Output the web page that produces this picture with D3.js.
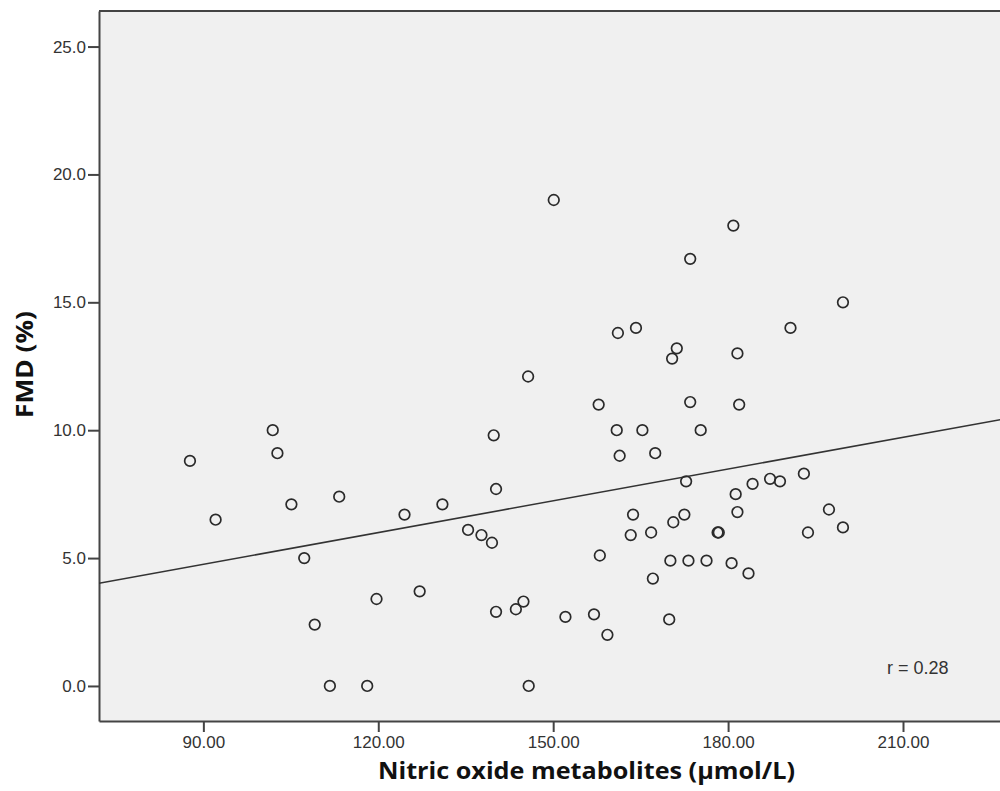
<!DOCTYPE html>
<html>
<head>
<meta charset="utf-8">
<script src="https://cdn.jsdelivr.net/npm/d3@7"></script>
<style>
  body { margin: 0; background: #fff; }
  svg { display: block; }
  .tick text { font-family: "Liberation Sans", Arial, sans-serif; font-size: 17px; fill: #333; }
</style>
</head>
<body>
<svg width="1000" height="791"></svg>
<script>
// scatter: nitric oxide metabolites vs FMD, with fit line

// values
var nox = [87.7, 92.1, 101.9, 102.7, 105.1, 107.3, 109.1, 111.7, 113.3, 118.1,
           119.7, 124.5, 127.1, 131.0, 135.4, 137.7, 139.5, 139.8, 140.2, 140.2,
           143.6, 144.9, 145.7, 145.8, 150.1, 152.1, 157.0, 157.8, 158.0, 159.3,
           160.9, 161.1, 161.4, 163.3, 163.7, 164.2, 165.3, 166.8, 167.1, 167.5,
           169.9, 170.1, 170.4, 170.6, 171.2, 172.5, 172.8, 173.2, 173.5, 173.5,
           175.3, 176.3, 178.2, 178.4, 180.6, 180.9, 181.3, 181.6, 181.6, 181.9,
           183.5, 184.2, 187.2, 188.9, 190.7, 193.0, 193.7, 197.3, 199.7, 199.7];
var fmd = [8.8, 6.5, 10.0, 9.1, 7.1, 5.0, 2.4, 0.0, 7.4, 0.0,
           3.4, 6.7, 3.7, 7.1, 6.1, 5.9, 5.6, 9.8, 7.7, 2.9,
           3.0, 3.3, 12.1, 0.0, 19.0, 2.7, 2.8, 11.0, 5.1, 2.0,
           10.0, 13.8, 9.0, 5.9, 6.7, 14.0, 10.0, 6.0, 4.2, 9.1,
           2.6, 4.9, 12.8, 6.4, 13.2, 6.7, 8.0, 4.9, 16.7, 11.1,
           10.0, 4.9, 6.0, 6.0, 4.8, 18.0, 7.5, 13.0, 6.8, 11.0,
           4.4, 7.9, 8.1, 8.0, 14.0, 8.3, 6.0, 6.9, 15.0, 6.2];

var xTicks = [90, 120, 150, 180, 210];
var yTicks = [0, 5, 10, 15, 20, 25];
var xDomain = [72.1, 239.5];
var yDomain = [-1.37, 26.39];

// fit line (FMD = a + b * NOx)
var fitA = 1.03, fitB = 0.0414;
var rLabel = "r = 0.28";

var xTitle = "Nitric oxide metabolites (\u00b5mol/L)";
var yTitle = "FMD (%)";

// layout (plot runs off the right edge like the original crop)
var pLeft = 99, pRight = 1075, pTop = 11, pBottom = 721;

var svg = d3.select("svg");

var x = d3.scaleLinear().domain(xDomain).range([pLeft, pRight]);
var y = d3.scaleLinear().domain(yDomain).range([pBottom, pTop]);

// plot background
svg.append("rect")
    .attr("x", pLeft).attr("y", pTop)
    .attr("width", pRight - pLeft).attr("height", pBottom - pTop)
    .attr("fill", "#f0f0f0");

// top frame line
svg.append("line")
    .attr("x1", pLeft).attr("x2", pRight)
    .attr("y1", pTop).attr("y2", pTop)
    .attr("stroke", "#444").attr("stroke-width", 2);

var xAxis = svg.append("g")
    .attr("transform", "translate(0," + pBottom + ")")
    .call(d3.axisBottom(x).tickValues(xTicks).tickFormat(d3.format(".2f")).tickSize(11).tickPadding(4).tickSizeOuter(0));

var yAxis = svg.append("g")
    .attr("transform", "translate(" + pLeft + ",0)")
    .call(d3.axisLeft(y).tickValues(yTicks).tickFormat(d3.format(".1f")).tickSize(11).tickPadding(2).tickSizeOuter(0));

[xAxis, yAxis].forEach(function(a) {
  a.select(".domain").attr("stroke", "#444").attr("stroke-width", 2);
  a.selectAll(".tick line").attr("stroke", "#444").attr("stroke-width", 2);
});

// clip so the fit line stays inside the plot
svg.append("clipPath").attr("id", "plotclip")
  .append("rect")
    .attr("x", pLeft).attr("y", pTop)
    .attr("width", pRight - pLeft).attr("height", pBottom - pTop);

var plot = svg.append("g").attr("clip-path", "url(#plotclip)");

plot.append("line")
    .attr("x1", x(xDomain[0])).attr("y1", y(fitA + fitB * xDomain[0]))
    .attr("x2", x(xDomain[1])).attr("y2", y(fitA + fitB * xDomain[1]))
    .attr("stroke", "#333").attr("stroke-width", 1.5);

var pts = nox.map(function(v, i) { return {x: v, y: fmd[i]}; });

plot.selectAll("circle")
  .data(pts)
  .enter().append("circle")
    .attr("cx", function(d) { return x(d.x); })
    .attr("cy", function(d) { return y(d.y); })
    .attr("r", 5.3)
    .attr("fill", "none")
    .attr("stroke", "#2a2a2a")
    .attr("stroke-width", 1.7);

svg.append("text")
    .attr("x", 887).attr("y", 674)
    .attr("font-family", "Liberation Sans, Arial, sans-serif")
    .attr("font-size", 18)
    .attr("fill", "#333")
    .text(rLabel);

svg.append("text")
    .attr("x", 378).attr("y", 779)
    .attr("font-family", "Open Sans, sans-serif")
    .attr("font-weight", "bold")
    .attr("font-size", 23)
    .attr("textLength", 417)
    .attr("lengthAdjust", "spacingAndGlyphs")
    .attr("fill", "#111")
    .text(xTitle);

svg.append("text")
    .attr("transform", "translate(33,418) rotate(-90)")
    .attr("font-family", "Open Sans, sans-serif")
    .attr("font-weight", "bold")
    .attr("font-size", 23)
    .attr("textLength", 107)
    .attr("lengthAdjust", "spacingAndGlyphs")
    .attr("fill", "#111")
    .text(yTitle);
</script>
</body>
</html>
